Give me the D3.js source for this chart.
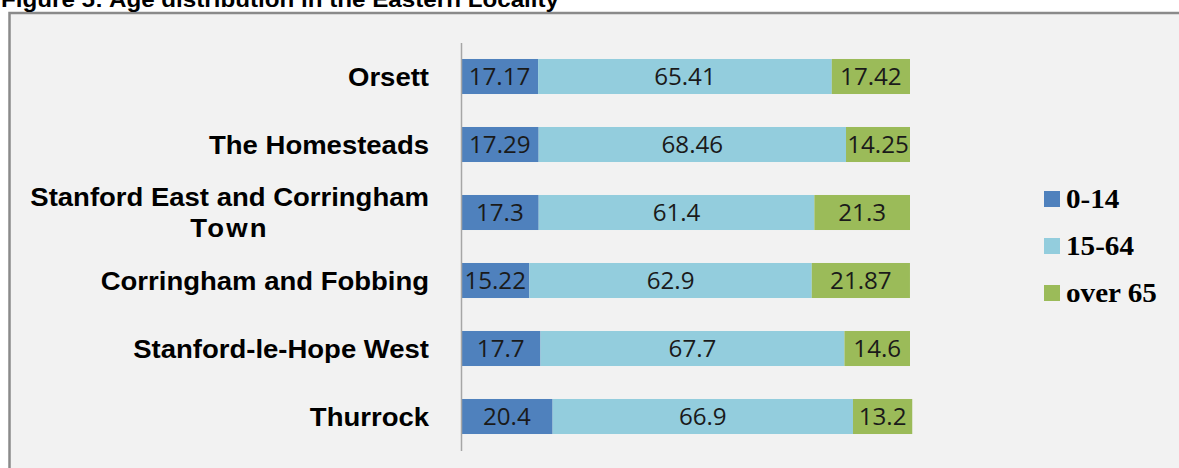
<!DOCTYPE html>
<html>
<head>
<meta charset="utf-8">
<script src="https://cdn.jsdelivr.net/npm/d3@7"></script>
<style>
  html, body { margin: 0; padding: 0; background: #ffffff; }
  svg { display: block; }
</style>
</head>
<body>
<svg id="chart" width="1179" height="468"></svg>
<script>
// ---- data ----
const categories = [
  "Orsett",
  "The Homesteads",
  "Stanford East and Corringham Town",
  "Corringham and Fobbing",
  "Stanford-le-Hope West",
  "Thurrock"
];
const categoryLines = [
  ["Orsett"],
  ["The Homesteads"],
  ["Stanford East and Corringham", "Town"],
  ["Corringham and Fobbing"],
  ["Stanford-le-Hope West"],
  ["Thurrock"]
];
const seriesNames = ["0-14", "15-64", "over 65"];
const age0to14   = [17.17, 17.29, 17.3, 15.22, 17.7, 20.4];
const age15to64  = [65.41, 68.46, 61.4, 62.9, 67.7, 66.9];
const ageOver65  = [17.42, 14.25, 21.3, 21.87, 14.6, 13.2];
const valueLabels = [
  ["17.17", "65.41", "17.42"],
  ["17.29", "68.46", "14.25"],
  ["17.3", "61.4", "21.3"],
  ["15.22", "62.9", "21.87"],
  ["17.7", "67.7", "14.6"],
  ["20.4", "66.9", "13.2"]
];
const title = "Figure 5: Age distribution in the Eastern Locality";

// ---- styles ----
const colors = ["#4F81BD", "#93CDDD", "#9BBB59"];
const stretch = 1.1;

const svg = d3.select("#chart");

// frame
svg.append("rect").attr("x", 0).attr("y", 0).attr("width", 1179).attr("height", 468).attr("fill", "#ffffff");
svg.append("rect")
  .attr("x", 9.5).attr("y", 13).attr("width", 1200).attr("height", 500)
  .attr("fill", "#F2F2F2").attr("stroke", "#8a8a8a").attr("stroke-width", 2.5);

// title (cut off at top, as in the reference)
svg.append("text")
  .attr("transform", `translate(1,6.5) scale(${stretch},1)`)
  .attr("font-family", "Liberation Sans, Arial, sans-serif")
  .attr("font-weight", "bold").attr("font-size", 22)
  .attr("fill", "#000")
  .text(title);

// scales
const y = d3.scaleBand().domain(categories).range([42.5, 450.5]).paddingInner(0.485).paddingOuter(0.2425);
const x = d3.scaleLinear().domain([0, 100]).range([461, 910]);

const rows = categories.map((c, i) => {
  const vals = [age0to14[i], age15to64[i], ageOver65[i]];
  let acc = 0;
  return vals.map((v, k) => {
    const seg = { cat: c, i, k, x0: acc, x1: acc + v, label: valueLabels[i][k] };
    acc += v;
    return seg;
  });
}).flat();

// bars
svg.append("g").selectAll("rect").data(rows).join("rect")
  .attr("x", d => x(d.x0))
  .attr("y", d => y(d.cat))
  .attr("width", d => x(d.x1) - x(d.x0))
  .attr("height", y.bandwidth())
  .attr("fill", d => colors[d.k]);

// value labels
svg.append("g").selectAll("text").data(rows).join("text")
  .attr("transform", d => `translate(${(x(d.x0) + x(d.x1)) / 2},${y(d.cat) + y.bandwidth() / 2 + 8.5}) scale(1.05,1)`)
  .attr("text-anchor", "middle")
  .attr("font-family", "Open Sans, sans-serif")
  .attr("font-size", 23)
  .attr("fill", "#1a1a1a")
  .text(d => d.label);

// axis line
const axis = d3.axisLeft(y).tickSize(0).tickSizeOuter(0).tickFormat("");
const ag = svg.append("g").attr("transform", `translate(${x(0)},0)`).call(axis);
ag.select(".domain").attr("stroke", "#a6a6a6").attr("stroke-width", 1.5);

// category labels
const labelRight = 429;
const lg = svg.append("g");
categories.forEach((c, i) => {
  const lines = categoryLines[i];
  const cy = y(c) + y.bandwidth() / 2;
  const lh = 31;
  if (lines.length === 1) {
    lg.append("text")
      .attr("transform", `translate(${labelRight},${cy + 9}) scale(${stretch},1)`)
      .attr("text-anchor", "end")
      .attr("font-family", "Liberation Sans, Arial, sans-serif")
      .attr("font-weight", "bold").attr("font-size", 25)
      .attr("fill", "#000").text(lines[0]);
  } else {
    const tmp = lg.append("text")
      .attr("font-family", "Liberation Sans, Arial, sans-serif")
      .attr("font-weight", "bold").attr("font-size", 25).text(lines[0]);
    const w = tmp.node().getComputedTextLength() * stretch;
    tmp.remove();
    const cx = labelRight - w / 2;
    lines.forEach((t, j) => {
      lg.append("text")
        .attr("transform", `translate(${cx},${cy + 9 + (j - (lines.length - 1) / 2) * lh}) scale(${stretch},1)`)
        .attr("text-anchor", "middle")
        .attr("font-family", "Liberation Sans, Arial, sans-serif")
        .attr("font-weight", "bold").attr("font-size", 25)
        .attr("letter-spacing", j === 1 ? 2 : 0)
        .attr("fill", "#000").text(t);
    });
  }
});

// legend
const leg = svg.append("g");
seriesNames.forEach((s, k) => {
  const cy = 199 + k * 47;
  leg.append("rect").attr("x", 1044).attr("y", cy - 8).attr("width", 16).attr("height", 16).attr("fill", colors[k]);
  leg.append("text")
    .attr("transform", `translate(1066,${cy + 9}) scale(1.1,1)`)
    .attr("font-family", "Liberation Serif, serif")
    .attr("font-weight", "bold").attr("font-size", 26.5)
    .attr("fill", "#000").text(s);
});
</script>
</body>
</html>
